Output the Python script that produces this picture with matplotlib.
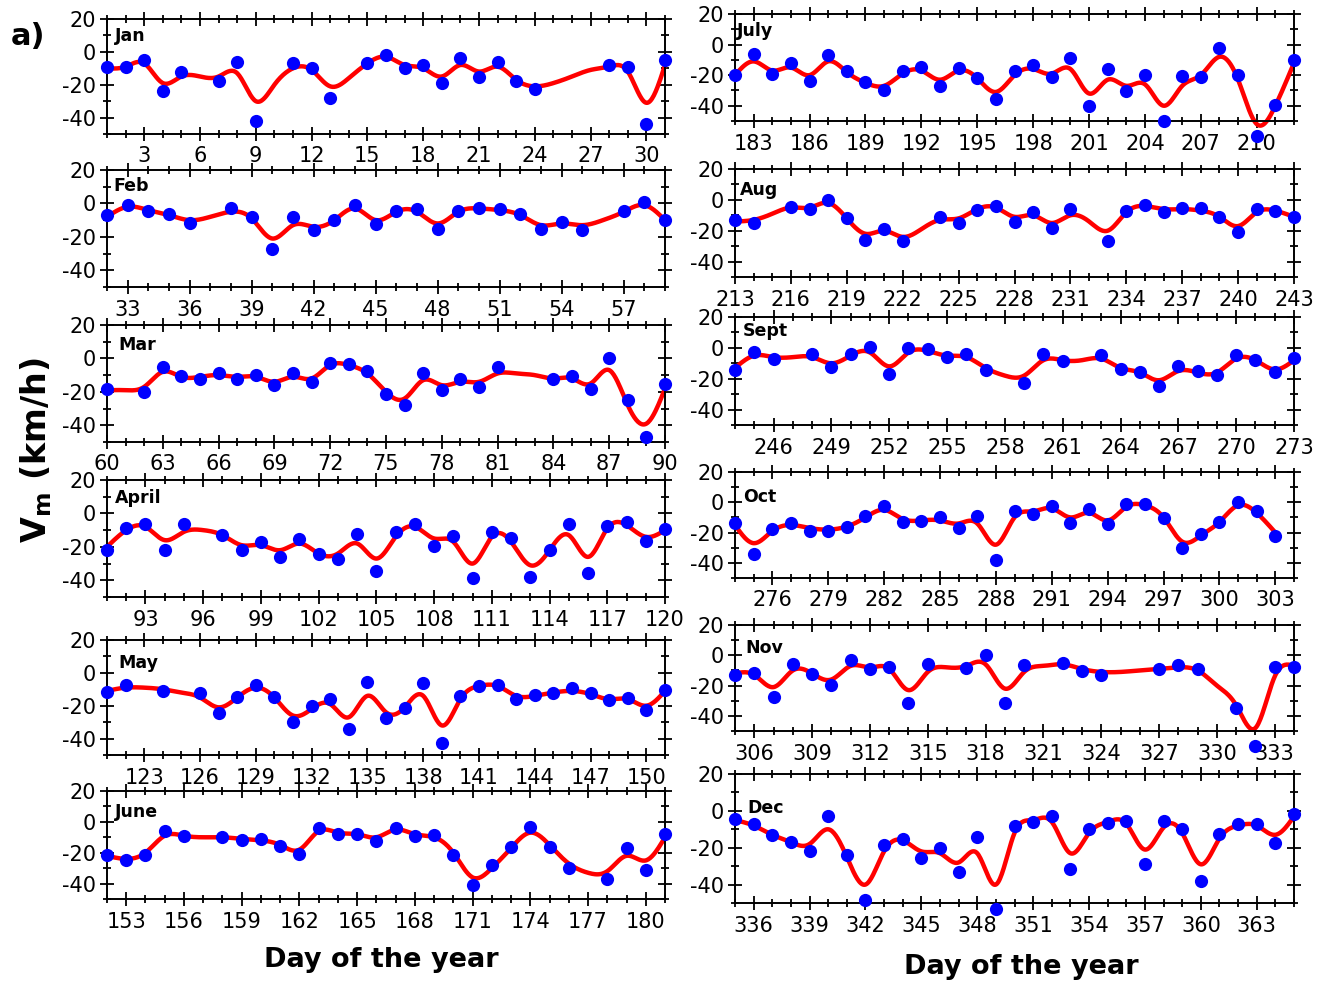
import numpy as np
import matplotlib
matplotlib.use('Agg')
import matplotlib.pyplot as plt
from matplotlib.ticker import MultipleLocator

plt.rcParams['font.family'] = 'DejaVu Sans'
plt.rcParams['axes.unicode_minus'] = False

nan = np.nan

# month names, first and last day of year for each panel
months = ['Jan', 'Feb', 'Mar', 'April', 'May', 'June',
          'July', 'Aug', 'Sept', 'Oct', 'Nov', 'Dec']
first_day = [1, 32, 60, 91, 121, 152, 182, 213, 244, 274, 305, 335]
last_day = [31, 59, 90, 120, 151, 181, 212, 243, 273, 304, 334, 365]

# daily mean speed (blue dots), one value per day, nan = no data
jan_vm = [-9.5, -9, -5, -24, -12, nan, -18, -6, -42, nan, -6.5, -10, -28, nan, -6.5, -2,
          -10, -8, -19, -4, -15, -6, -18, -22.5, nan, nan, nan, -8, -9, -44, -5]
feb_vm = [-7, -1, -4.4, -6.4, -11.7, nan, -3, -8, -27.4, -8, -16, -10, -1, -12.5, -4.4,
          -3.2, -15.5, -4.4, -2.6, -3.4, -6.4, -15.5, -11, -15.7, nan, -4.4, 1, -10]
mar_vm = [-18.5, nan, -20, -5.4, -10.7, -12.5, -8.7, -12.5, -10, -16, -8.7, -14, -2.6, -3.2,
          -7.6, -21.5, -27.8, -8.9, -19, -12.5, -17, -5.4, nan, nan, -12.5, -10.7, -18.5,
          0.4, -25, -47, -15.5]
apr_vm = [-21.8, -8.8, -6.6, -21.8, -6.6, nan, -12.8, -21.6, -17, -26, -15.4, -24.4, -27.4,
          -12.4, -34.2, -11, -6.6, -19.6, -13.6, -38.4, -11.4, -14.6, -38, -21.6, -6.6,
          -35.8, -7.6, -5.2, -16.4, -9.4]
may_vm = [-11.6, -7.1, nan, -11, nan, -12, -24.3, -14.6, -7.1, -14.6, -29.8, -20.3, -16,
          -33.9, -5.5, -27.4, -21.3, -6.3, -42.4, -14.2, -8.1, -7.1, -16, -13.6, -12, -9.1,
          -12.4, -16.6, -15.2, -22.7, -10.5]
jun_vm = [-21.8, -25, -21.2, -6, -9.3, nan, -9.5, -11.9, -11.4, -15.8, -20.7, -3.9, -7.6,
          -7.8, -12.1, -3.9, -9.3, -8.6, -21.2, -41, -28, -16, -3.5, -16.2, -29.8, nan, -37,
          -16.8, -30.9, -7.6]
jul_vm = [-20, -5.9, -19.5, -12, -24, -7, -17.3, -24.5, -29.5, -17.3, -14.7, -27.4, -15.1,
          -21.9, -35.4, -17.3, -13.6, -21.2, -8.5, -40.5, -16.2, -30.4, -19.7, -49.7, -20.8,
          -21.2, -2.2, -19.7, -60, -39.8, -9.8]
aug_vm = [-13.2, -14.7, nan, -4.4, -6.2, 0, -11.9, -25.7, -18.7, -26.8, nan, -11.4, -14.9,
          -6.4, -3.7, -14.1, -8.1, -18, -5.9, nan, -26.4, -7.5, -3.3, -8.1, -5, -5.3, -11,
          -20.9, -6.2, -7.3, -11.4]
sep_vm = [-14.1, -2.6, -7.1, nan, -3.8, -12.1, -3.8, 0.7, -16.8, 0.2, -0.9, -6, -3.8, -14.1,
          nan, -23, -3.8, -8.6, nan, -4.9, -13.5, -15.7, -24.5, -11.9, -15.2, -17.9, -4.9,
          -7.9, -15.7, -6.4]
oct_vm = [-13.9, -34.2, -17.7, -13.5, -18.8, -19, -16.1, -8.8, -2.4, -12.8, -12.1, -9.5,
          -17.2, -8.8, -38.2, -5.7, -7.7, -2.4, -13.9, -4.6, -14.6, -1.1, -0.9, -10.2, -30.5,
          -21, -12.8, 0, -5.7, -22.1, nan]
nov_vm = [-13.2, -11.4, -27.5, -5.9, -12.1, -19.8, -3.1, -9.2, -7.5, -31.2, -5.9, nan, -8.6,
          0, -31.2, -6.6, nan, -5.3, -10.3, -13, nan, nan, -9.2, -6.4, -9.2, nan, -34.5,
          -59.8, -7.7, -7.5]
dec_vm = [-4.5, -7.4, -13.2, -16.8, -21.7, -2.7, -24, -48.5, -18.3, -15.2, -25.5, -20.4,
          -33.1, -14.1, -53.5, -8.1, -6.3, -2.7, -31.3, -9.9, -6.5, -5.4, -28.6, -5.4, -10.1,
          -38.2, -12.8, -6.9, -7.4, -17.2, -1.8]

# smoothed curve (red) read at each day
jan_fit = [-10, -9, -7, -19, -15, -15, -15, -13, -30, -20, -10, -11, -21, -16, -7, -3, -8,
           -10, -15, -8, -12, -9, -17, -21, -19, -15, -11, -9, -12, -31, -8]
feb_fit = [-8, -2, -4, -7, -10, -8, -5, -9, -21, -13, -14, -10, -3, -10, -5, -5, -12, -5,
           -3, -4, -7, -13, -12, -13, -10, -5, -1, -10]
mar_fit = [-19, -19, -17, -8, -11, -11, -10, -11, -11, -14, -11, -12, -4, -4, -9, -20, -24,
           -13, -16, -14, -14, -9, -9, -10, -12, -12, -15, -7, -28, -39, -18]
apr_fit = [-20, -10, -8, -16, -11, -10, -13, -19, -19, -22, -18, -24, -24, -18, -27, -14,
           -8, -15, -17, -30, -14, -17, -31, -22, -13, -26, -9, -7, -14, -10]
may_fit = [-11, -9, -9, -10, -12, -15, -21, -15, -9, -15, -26, -22, -19, -27, -14, -24, -21,
           -14, -32, -16, -8, -8, -14, -14, -12, -11, -13, -16, -16, -20, -11]
jun_fit = [-22, -24, -20, -9, -9, -10, -10, -11, -12, -15, -18, -6, -7, -8, -10, -5, -8,
           -10, -20, -36, -30, -17, -7, -15, -27, -33, -32, -22, -25, -10]
jul_fit = [-20, -11, -17, -15, -20, -11, -18, -25, -27, -19, -17, -23, -17, -22, -31, -20,
           -16, -19, -16, -32, -23, -27, -26, -40, -27, -20, -8, -23, -52, -40, -12]
aug_fit = [-14, -13, -9, -5, -5, -2, -12, -22, -20, -24, -19, -13, -12, -6, -5, -11, -10,
           -15, -10, -14, -20, -8, -4, -6, -6, -7, -11, -17, -8, -7, -11]
sep_fit = [-13, -5, -6, -6, -6, -10, -5, -3, -12, -3, -2, -5, -6, -13, -18, -18, -8, -8,
           -8, -7, -13, -16, -21, -15, -16, -16, -7, -8, -14, -8]
oct_fit = [-15, -27, -19, -15, -17, -18, -16, -10, -5, -11, -12, -12, -14, -14, -28, -10,
           -6, -4, -10, -7, -12, -3, -2, -10, -26, -22, -13, -2, -7, -20, nan]
nov_fit = [-12, -13, -21, -10, -12, -16, -7, -8, -9, -23, -11, -8, -7, -6, -22, -11, -7, -6,
           -9, -11, -11, -10, -9, -8, -10, -20, -33, -48, -14, -7]
dec_fit = [-5, -8, -13, -17, -18, -10, -25, -40, -22, -16, -22, -23, -28, -23, -40, -12, -5,
           -6, -23, -12, -6, -7, -21, -9, -12, -29, -15, -8, -8, -13, -3]

all_vm = [jan_vm, feb_vm, mar_vm, apr_vm, may_vm, jun_vm,
          jul_vm, aug_vm, sep_vm, oct_vm, nov_vm, dec_vm]
all_fit = [jan_fit, feb_fit, mar_fit, apr_fit, may_fit, jun_fit,
           jul_fit, aug_fit, sep_fit, oct_fit, nov_fit, dec_fit]


def spline(x, y, xs):
    # natural cubic spline, only used to draw the red curve smoothly
    n = len(x)
    h = np.diff(x)
    A = np.zeros((n, n))
    r = np.zeros(n)
    A[0, 0] = 1
    A[-1, -1] = 1
    for i in range(1, n - 1):
        A[i, i - 1] = h[i - 1]
        A[i, i] = 2 * (h[i - 1] + h[i])
        A[i, i + 1] = h[i]
        r[i] = 6 * ((y[i + 1] - y[i]) / h[i] - (y[i] - y[i - 1]) / h[i - 1])
    M = np.linalg.solve(A, r)
    k = np.clip(np.searchsorted(x, xs) - 1, 0, n - 2)
    hk = h[k]
    a = x[k + 1] - xs
    b = xs - x[k]
    return (M[k] * a ** 3 / (6 * hk) + M[k + 1] * b ** 3 / (6 * hk)
            + (y[k] / hk - M[k] * hk / 6) * a + (y[k + 1] / hk - M[k + 1] * hk / 6) * b)


W, H = 1325, 984
fig = plt.figure(figsize=(W / 100, H / 100), dpi=100)

# panel boxes in pixels (x0, x1, top, bottom)
boxes = [(107, 665, 19, 134), (107, 665, 170, 287), (107, 665, 325, 442),
         (107, 665, 480, 597), (107, 665, 640, 755), (107, 665, 791, 899),
         (735, 1294, 14, 121), (735, 1294, 169, 277), (735, 1294, 317, 425),
         (735, 1294, 472, 578), (735, 1294, 625, 731), (735, 1294, 774, 903)]
label_xy = [(0.015, 0.85), (0.011, 0.86), (0.02, 0.83), (0.015, 0.85), (0.02, 0.80),
            (0.015, 0.81), (0.004, 0.84), (0.009, 0.81), (0.014, 0.87), (0.014, 0.76),
            (0.018, 0.78), (0.023, 0.74)]

for i in range(12):
    x0, x1, t, b = boxes[i]
    ax = fig.add_axes([x0 / W, 1 - b / H, (x1 - x0) / W, (b - t) / H])
    days = np.arange(first_day[i], last_day[i] + 1)
    vm = np.array(all_vm[i], dtype=float)
    fit = np.array(all_fit[i], dtype=float)

    ok = ~np.isnan(fit)
    xd = days[ok].astype(float)
    xs = np.linspace(xd[0], xd[-1], 600)
    ax.plot(xs, spline(xd, fit[ok], xs), color='#ff0000', lw=3.2, zorder=2,
            clip_on=False, solid_capstyle='round')
    ax.plot(days, vm, 'o', color='#0000ff', ms=9.5, mec='none', zorder=3, clip_on=False)

    ax.set_xlim(first_day[i], last_day[i])
    ax.set_ylim(-50, 20)
    ax.xaxis.set_major_locator(MultipleLocator(3))
    ax.xaxis.set_minor_locator(MultipleLocator(1))
    ax.yaxis.set_major_locator(MultipleLocator(20))
    ax.yaxis.set_minor_locator(MultipleLocator(10))
    ax.tick_params(which='both', direction='inout', top=True, right=True,
                   width=1.3, labelsize=15, colors='black')
    ax.tick_params(which='major', length=10)
    ax.tick_params(which='minor', length=6)
    ax.tick_params(axis='x', pad=4)
    ax.tick_params(axis='y', pad=3)
    for s in ax.spines.values():
        s.set_linewidth(1.4)
    ax.text(label_xy[i][0], label_xy[i][1], months[i], transform=ax.transAxes,
            ha='left', va='center', fontsize=12.5, fontweight='bold')

fig.text(0.021, 0.963, 'a)', fontsize=22, fontweight='bold', ha='center', va='center')
fig.text(0.027, 0.543, r'$\mathbf{V_m}$ (km/h)', rotation=90, fontsize=24,
         fontweight='bold', ha='center', va='center')
fig.text(0.288, 0.024, 'Day of the year', fontsize=19.5, fontweight='bold',
         ha='center', va='center')
fig.text(0.771, 0.017, 'Day of the year', fontsize=19.5, fontweight='bold',
         ha='center', va='center')

fig.savefig('out.png', dpi=100)
